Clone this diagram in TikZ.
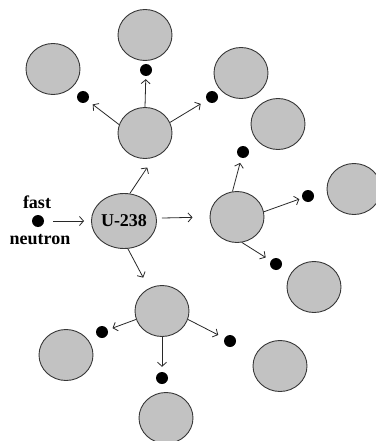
\documentclass[tikz,border=0pt]{standalone}
\usepackage{fontspec}
\setmainfont{Liberation Serif}
\usetikzlibrary{shapes.geometric,arrows.meta}
\definecolor{nucfill}{RGB}{194,194,194}
\definecolor{nucedge}{RGB}{55,55,55}
\definecolor{arrowcol}{RGB}{40,40,40}
\begin{document}
\begin{tikzpicture}[x=1pt,y=-1pt,
  nucleus/.style={ellipse, draw=nucedge, fill=nucfill, line width=0.9pt, minimum width=54pt, minimum height=51pt, inner sep=0pt},
  neutronball/.style={circle, fill=black, minimum size=12pt, inner sep=0pt},
  emit/.style={draw=arrowcol, line width=0.8pt, -{Straight Barb[length=4pt,width=9pt]}},
  lbl/.style={font=\bfseries\fontsize{18}{20}\selectfont, inner sep=0pt}]
\useasboundingbox (0,0) rectangle (375,441);
% nuclei
\node[nucleus] (T)   at (145,35)  {};
\node[nucleus] (TL)  at (53,69)   {};
\node[nucleus] (TR)  at (241,73)  {};
\node[nucleus] (A)   at (145,133) {};
\node[nucleus] (RU)  at (278,124) {};
\node[nucleus, minimum width=56pt, minimum height=55pt, font=\bfseries\fontsize{18}{20}\selectfont] (U) at (124,221) {U-238};
\node[nucleus] (B)   at (237,217) {};
\node[nucleus] (FR)  at (354,189) {};
\node[nucleus] (RL)  at (314,287) {};
\node[nucleus] (C)   at (162,311) {};
\node[nucleus] (LL)  at (66,355)  {};
\node[nucleus] (LR)  at (280,366) {};
\node[nucleus] (BOT) at (166,418) {};
% neutrons
\node[neutronball] (n)   at (38,221)  {};
\node[neutronball] (dT)  at (146,70)  {};
\node[neutronball] (dTL) at (83,97)   {};
\node[neutronball] (dTR) at (212,97)  {};
\node[neutronball] (dRU) at (243,152) {};
\node[neutronball] (dR)  at (308,196) {};
\node[neutronball] (dRL) at (276,264) {};
\node[neutronball] (dLL) at (102,332) {};
\node[neutronball] (dLR) at (230,341) {};
\node[neutronball] (dB)  at (162,378) {};
% labels
\node[lbl, anchor=base] (fast) at (37,208) {fast};
\node[lbl, anchor=base] (neut) at (40,244) {neutron};
% arrows
\draw[emit, shorten <=9pt, shorten >=7pt] (n) -- (U);
\draw[emit, shorten >=12pt] (U.78) -- (A.290);
\draw[emit, shorten <=5pt, shorten >=17pt] (U.5) -- (B.180);
\draw[emit, shorten >=12pt] (U.-82) -- (C.120);
\draw[emit, shorten >=3pt] (A.90) -- (dT);
\draw[emit, shorten >=6pt] (A.162) -- (dTL);
\draw[emit, shorten >=7pt] (A.23) -- (dTR);
\draw[emit, shorten >=5pt] (B.100) -- (dRU);
\draw[emit, shorten >=3pt] (B.11) -- (dR);
\draw[emit, shorten >=6pt] (B.-79) -- (dRL);
\draw[emit, shorten >=5pt] (C.198) -- (dLL);
\draw[emit, shorten >=5pt] (C.270) -- (dB);
\draw[emit, shorten >=7pt] (C.-18) -- (dLR);
\end{tikzpicture}
\end{document}
